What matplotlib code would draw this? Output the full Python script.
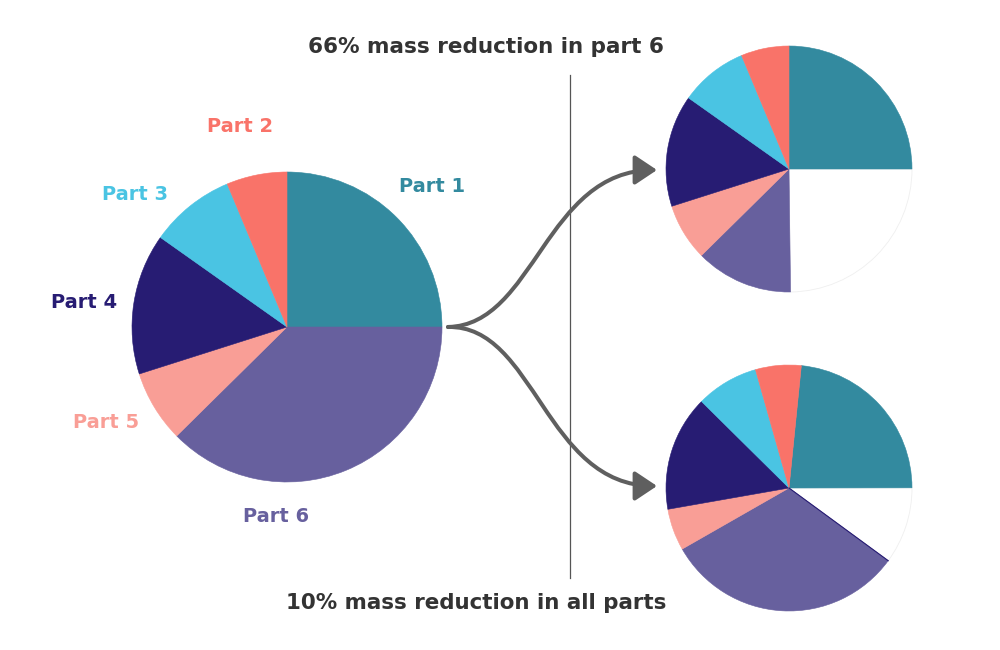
import numpy as np
import matplotlib.pyplot as plt
from matplotlib.patches import FancyArrowPatch
from matplotlib.path import Path

# colours of the parts, same order everywhere
part_names = ['Part 1', 'Part 6', 'Part 5', 'Part 4', 'Part 3', 'Part 2']
part_colors = ['#338a9f', '#67609e', '#f99e96', '#271c73', '#4ac4e3', '#f97369']

# original mass share (%), clockwise from 12 o'clock
base_values = [25.0, 37.6, 7.5, 14.7, 8.9, 6.3]

# 66% less mass in part 6 -> 'removed' is the white gap
top_names = ['Part 1', 'removed', 'Part 6', 'Part 5', 'Part 4', 'Part 3', 'Part 2']
top_values = [25.0, 24.8, 12.8, 7.5, 14.7, 8.9, 6.3]

# 10% less mass in all parts
bottom_names = ['Part 1', 'removed', 'Part 6', 'Part 5', 'Part 4', 'Part 3', 'Part 2']
bottom_values = [23.4, 10.1, 31.7, 5.5, 15.2, 8.2, 6.0]

titles = ['66% mass reduction in part 6', '10% mass reduction in all parts']

H = 650  # image height in px, used to flip y
FONT = 'DejaVu Sans'

color_of = dict(zip(part_names, part_colors))
color_of['removed'] = 'white'

fig = plt.figure(figsize=(10, 6.5), dpi=100)
ax = fig.add_axes([0, 0, 1, 1])


def draw_pie(names, values, cx, cy, r, start):
    wedges, _ = ax.pie(values, colors=[color_of[n] for n in names],
                       startangle=start, counterclock=False,
                       center=(cx, H - cy), radius=r)
    for n, w in zip(names, wedges):
        if n == 'removed':
            w.set_edgecolor('#efefef')
            w.set_linewidth(0.6)
            w.set_zorder(0)
        else:
            w.set_edgecolor(w.get_facecolor())
            w.set_linewidth(0.4)
    return wedges


draw_pie(part_names, base_values, 287, 327, 155, 90)
draw_pie(top_names, top_values, 789, 169, 123, 90)
# part 1 no longer starts at 12 o'clock, it still ends at 3 o'clock
bw = draw_pie(bottom_names, bottom_values, 789, 488, 123, bottom_values[0] / 100 * 360)

# thin dark seam where part 6 meets the gap in the lower pie
seam = np.deg2rad(bw[1].theta1)
ax.plot([789, 789 + 123 * np.cos(seam)], [H - 488, H - 488 + 123 * np.sin(seam)],
        color='#271c73', lw=0.8, zorder=3)

# labels round the big pie
label_pos = {'Part 1': (432, 186), 'Part 2': (240, 127), 'Part 3': (135, 194),
             'Part 4': (84, 302), 'Part 5': (106, 422), 'Part 6': (276, 517)}
for n in part_names:
    x, y = label_pos[n]
    ax.text(x, H - y, n, color=color_of[n], fontsize=14, fontweight='bold',
            family=FONT, ha='center', va='center')

ax.text(486, H - 47, titles[0], color='#333333', fontsize=15.5,
        fontweight='bold', family=FONT, ha='center', va='center')
ax.text(476, H - 603, titles[1], color='#333333', fontsize=15.4,
        fontweight='bold', family=FONT, ha='center', va='center')

# divider
ax.plot([570, 570], [H - 75, H - 578], color='#555555', lw=0.9, zorder=1)

# the two s-shaped arrows
for end_y in [170, 486]:
    verts = [(448, H - 327), (535, H - 325), (545, H - end_y), (657, H - end_y)]
    codes = [Path.MOVETO, Path.CURVE4, Path.CURVE4, Path.CURVE4]
    arr = FancyArrowPatch(path=Path(verts, codes), arrowstyle='-|>,head_length=0.45,head_width=0.3',
                          mutation_scale=30, color='#5f5f5f', lw=2.9, zorder=3)
    ax.add_patch(arr)

ax.set_xlim(0, 1000)
ax.set_ylim(0, H)
ax.set_aspect('auto')
ax.axis('off')

fig.savefig('out.png', dpi=100)
